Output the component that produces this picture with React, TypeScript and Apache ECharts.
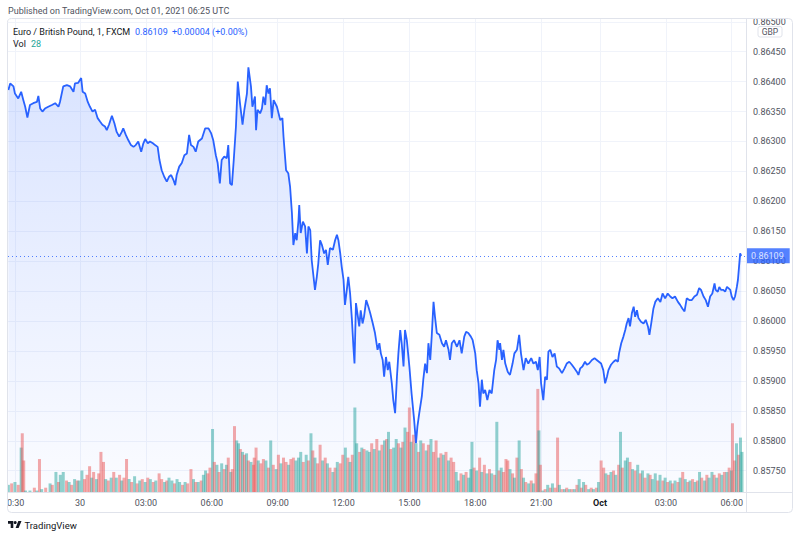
import React, { useEffect, useRef } from 'react';
import * as echarts from 'echarts';

// x axis: trading minutes counted from 30 Sep 00:00 (gaps compressed, as on the source chart)
const xAxisMin = -197;
const xAxisMax = 1820;
const xTickMinutes = [-176, 0, 180, 360, 540, 720, 900, 1080, 1260, 1421, 1601, 1781];
const xTickLabels = ['0:30', '30', '03:00', '06:00', '09:00', '12:00', '15:00', '18:00', '21:00', 'Oct', '03:00', '06:00'];

// price axis (GBP)
const priceAxisMin = 0.857144;
const priceAxisMax = 0.865063;
const priceTicks = [0.8575, 0.858, 0.8585, 0.859, 0.8595, 0.86, 0.8605, 0.861, 0.8615, 0.862, 0.8625, 0.863, 0.8635, 0.864, 0.8645, 0.865];

const symbolTitle = 'Euro / British Pound, 1, FXCM';
const lastPrice = 0.86109;
const priceChange = '+0.00004 (+0.00%)';
const lastVolume = 28;
const publishedText = 'Published on TradingView.com, Oct 01, 2021 06:25 UTC';

// [minute, price]
const pricePoints: [number, number][] = [
  [-196, 0.86386], [-191, 0.86397], [-182, 0.86392], [-178, 0.8638], [-169, 0.86372], [-161, 0.86383], [-155, 0.86369], [-150, 0.86358], [-144, 0.8634], [-137, 0.86361],
  [-128, 0.86364], [-118, 0.86366], [-114, 0.86376], [-109, 0.86355], [-103, 0.8635], [-96, 0.86355], [-87, 0.86358], [-77, 0.86361], [-68, 0.86364], [-59, 0.86358],
  [-55, 0.86366], [-46, 0.86392], [-36, 0.86394], [-27, 0.86392], [-18, 0.86383], [-14, 0.86397], [-5, 0.86398], [3, 0.86406], [7, 0.86383], [14, 0.8638],
  [21, 0.86366], [27, 0.86358], [34, 0.8635], [41, 0.86353], [48, 0.86339], [55, 0.86333], [61, 0.86328], [68, 0.86325], [73, 0.86319], [79, 0.86328],
  [87, 0.86343], [94, 0.8633], [100, 0.86316], [107, 0.86308], [114, 0.86316], [118, 0.86322], [125, 0.86311], [132, 0.86302], [139, 0.86294], [146, 0.86291],
  [152, 0.86294], [159, 0.863], [167, 0.86283], [173, 0.86297], [178, 0.86304], [185, 0.86297], [191, 0.863], [199, 0.86297], [205, 0.86294], [212, 0.86291],
  [217, 0.86269], [223, 0.86252], [230, 0.86241], [237, 0.86233], [243, 0.86241], [249, 0.86244], [255, 0.86236], [260, 0.86227], [264, 0.86244], [271, 0.86258],
  [278, 0.86264], [285, 0.86277], [292, 0.8628], [298, 0.86311], [303, 0.86294], [310, 0.86291], [316, 0.86283], [323, 0.863], [333, 0.86305], [342, 0.86322],
  [351, 0.86322], [358, 0.86314], [364, 0.86302], [371, 0.86277], [376, 0.86264], [382, 0.8623], [387, 0.86269], [394, 0.86275], [401, 0.86272], [405, 0.86294],
  [410, 0.8623], [415, 0.86227], [420, 0.86269], [426, 0.86325], [431, 0.864], [437, 0.86364], [444, 0.86328], [449, 0.86353], [456, 0.8638], [460, 0.86424],
  [467, 0.86392], [471, 0.86358], [478, 0.86375], [481, 0.86319], [485, 0.86353], [492, 0.86347], [497, 0.86355], [501, 0.86375], [506, 0.86361], [510, 0.86394],
  [515, 0.8638], [519, 0.86389], [524, 0.86339], [529, 0.86369], [538, 0.86358], [547, 0.86336], [553, 0.86339], [556, 0.86308], [563, 0.86252], [569, 0.86247],
  [574, 0.86224], [579, 0.8618], [583, 0.86127], [588, 0.86147], [592, 0.86135], [597, 0.86169], [599, 0.86194], [603, 0.86147], [609, 0.86166], [615, 0.86158],
  [620, 0.86113], [624, 0.86158], [629, 0.86152], [633, 0.86102], [638, 0.86074], [642, 0.86052], [647, 0.86074], [651, 0.86096], [656, 0.86135], [661, 0.86127],
  [667, 0.86113], [672, 0.86119], [677, 0.86094], [683, 0.86122], [691, 0.86119], [697, 0.86135], [702, 0.86144], [706, 0.86135], [711, 0.86113], [715, 0.86091],
  [720, 0.86069], [724, 0.86027], [729, 0.86052], [733, 0.86074], [738, 0.86046], [743, 0.86002], [747, 0.85957], [750, 0.85929], [754, 0.8603], [758, 0.86013],
  [763, 0.85991], [767, 0.86018], [772, 0.85996], [776, 0.86007], [782, 0.86035], [788, 0.86024], [793, 0.86013], [800, 0.85996], [806, 0.8598], [813, 0.85952],
  [818, 0.85963], [822, 0.85946], [827, 0.85935], [831, 0.85907], [836, 0.8594], [841, 0.85918], [845, 0.85932], [852, 0.85896], [856, 0.85868], [861, 0.85846],
  [866, 0.85907], [870, 0.85946], [875, 0.85985], [879, 0.85963], [884, 0.85924], [888, 0.85985], [893, 0.85968], [900, 0.85924], [906, 0.85879], [913, 0.85835],
  [918, 0.85796], [922, 0.85824], [927, 0.85846], [934, 0.85874], [938, 0.85902], [943, 0.85929], [948, 0.85913], [952, 0.85963], [957, 0.85935], [961, 0.85974],
  [966, 0.86032], [970, 0.86007], [975, 0.8598], [982, 0.85977], [989, 0.85963], [995, 0.85957], [1000, 0.85968], [1007, 0.85952], [1011, 0.85935], [1016, 0.85963],
  [1022, 0.85968], [1030, 0.85957], [1037, 0.85968], [1043, 0.85946], [1050, 0.85974], [1055, 0.85982], [1061, 0.8598], [1068, 0.85974], [1073, 0.85968], [1080, 0.85946],
  [1084, 0.85918], [1089, 0.85896], [1093, 0.85857], [1098, 0.85902], [1102, 0.85879], [1107, 0.85885], [1113, 0.85868], [1119, 0.85885], [1125, 0.85879], [1132, 0.85918],
  [1137, 0.85935], [1141, 0.85968], [1146, 0.85952], [1148, 0.85963], [1153, 0.85935], [1157, 0.85952], [1162, 0.85929], [1169, 0.85915], [1175, 0.8591], [1182, 0.85929],
  [1187, 0.85946], [1194, 0.85952], [1200, 0.85977], [1205, 0.85946], [1212, 0.85918], [1218, 0.85938], [1225, 0.85929], [1233, 0.85938], [1239, 0.85929], [1246, 0.85932],
  [1251, 0.85918], [1256, 0.8594], [1260, 0.85896], [1266, 0.85868], [1271, 0.85907], [1276, 0.85902], [1280, 0.85949], [1285, 0.85952], [1291, 0.8594], [1297, 0.85946],
  [1303, 0.85924], [1309, 0.85921], [1317, 0.85913], [1324, 0.85921], [1330, 0.85929], [1337, 0.85932], [1344, 0.85927], [1351, 0.85921], [1358, 0.85915], [1362, 0.8591],
  [1367, 0.85921], [1373, 0.85924], [1380, 0.85932], [1385, 0.85927], [1391, 0.85929], [1399, 0.85935], [1406, 0.85938], [1412, 0.85935], [1418, 0.85932], [1424, 0.85929],
  [1430, 0.85918], [1435, 0.85896], [1440, 0.85907], [1444, 0.85918], [1451, 0.85927], [1458, 0.85932], [1464, 0.85935], [1470, 0.85932], [1473, 0.85946], [1479, 0.85963],
  [1485, 0.85974], [1490, 0.85985], [1494, 0.85996], [1499, 0.86005], [1503, 0.85991], [1508, 0.86013], [1513, 0.86024], [1517, 0.86007], [1522, 0.86018], [1526, 0.86005],
  [1533, 0.85999], [1540, 0.85996], [1546, 0.86002], [1552, 0.85991], [1556, 0.85977], [1561, 0.85996], [1567, 0.86021], [1572, 0.86032], [1579, 0.86038], [1586, 0.86032],
  [1592, 0.86046], [1599, 0.86038], [1606, 0.86046], [1613, 0.86041], [1619, 0.86038], [1626, 0.86041], [1634, 0.86032], [1640, 0.86027], [1646, 0.86021], [1652, 0.86016],
  [1658, 0.86038], [1665, 0.86035], [1672, 0.86035], [1679, 0.86041], [1686, 0.86044], [1692, 0.86055], [1697, 0.86052], [1704, 0.86041], [1710, 0.86035], [1716, 0.86024],
  [1722, 0.86041], [1728, 0.86046], [1734, 0.86063], [1737, 0.86052], [1743, 0.86049], [1747, 0.86057], [1752, 0.86052], [1758, 0.86052], [1763, 0.86049], [1768, 0.86057],
  [1772, 0.86055], [1777, 0.86052], [1781, 0.86041], [1786, 0.86035], [1790, 0.86041], [1795, 0.86057], [1798, 0.86069], [1801, 0.86091], [1804, 0.86113], [1807, 0.86109],
];

// [minute, volume, direction (1 up / -1 down)]
const volumePoints: [number, number, number][] = [
  [-196, 5, 1], [-187, 6, -1], [-178, 7, 1], [-169, 5, -1], [-161, 31, 1], [-158, 41, -1], [-154, 22, -1], [-149, 1, 1], [-137, 1, 1], [-125, 3, -1],
  [-118, 1, 1], [-111, 23, -1], [-105, 2, 1], [-94, 3, -1], [-82, 6, 1], [-76, 5, -1], [-66, 14, 1], [-59, 7, -1], [-54, 12, 1], [-46, 14, 1],
  [-37, 8, -1], [-30, 7, 1], [-23, 5, -1], [-15, 9, 1], [-8, 8, -1], [-3, 8, 1], [5, 15, 1], [12, 9, -1], [19, 12, -1], [26, 18, -1],
  [32, 10, 1], [37, 14, -1], [45, 9, 1], [51, 13, -1], [57, 28, -1], [64, 21, -1], [70, 9, 1], [77, 8, -1], [85, 10, 1], [92, 14, -1],
  [99, 10, 1], [108, 12, -1], [114, 8, 1], [120, 10, -1], [127, 23, -1], [134, 9, 1], [141, 7, -1], [149, 11, 1], [156, 6, -1], [163, 8, 1],
  [170, 9, -1], [178, 7, 1], [185, 10, -1], [192, 9, 1], [200, 7, -1], [207, 8, 1], [216, 13, -1], [223, 9, -1], [231, 7, 1], [237, 8, -1],
  [243, 10, 1], [251, 8, 1], [258, 6, -1], [265, 9, 1], [272, 7, 1], [280, 5, -1], [287, 7, 1], [294, 6, -1], [303, 16, -1], [310, 9, 1],
  [316, 7, -1], [323, 7, 1], [331, 8, -1], [337, 12, 1], [343, 15, 1], [349, 13, -1], [355, 17, -1], [362, 44, 1], [367, 21, -1], [374, 19, 1],
  [380, 14, -1], [387, 20, 1], [394, 16, -1], [400, 19, 1], [405, 24, -1], [412, 14, 1], [416, 16, -1], [422, 46, -1], [428, 36, 1], [433, 34, 1],
  [438, 30, -1], [444, 28, 1], [449, 26, -1], [455, 27, 1], [460, 22, -1], [467, 21, 1], [474, 19, -1], [476, 24, -1], [481, 31, -1], [487, 22, 1],
  [494, 20, -1], [501, 23, -1], [508, 22, 1], [515, 17, -1], [521, 36, 1], [528, 19, -1], [536, 16, 1], [542, 26, -1], [549, 20, 1], [556, 24, -1],
  [563, 21, -1], [570, 19, 1], [576, 23, -1], [583, 24, -1], [590, 22, 1], [597, 24, 1], [603, 28, 1], [610, 21, -1], [618, 26, 1], [624, 22, -1],
  [631, 41, 1], [636, 29, -1], [642, 24, 1], [649, 20, -1], [656, 33, -1], [663, 22, 1], [670, 24, -1], [676, 20, 1], [683, 17, -1], [691, 14, 1],
  [697, 17, -1], [703, 21, 1], [711, 20, -1], [718, 26, -1], [725, 31, 1], [732, 24, -1], [738, 21, 1], [744, 26, -1], [751, 59, 1], [756, 34, 1],
  [764, 28, -1], [770, 31, 1], [776, 30, -1], [784, 29, 1], [791, 28, 1], [797, 34, -1], [804, 30, 1], [811, 37, -1], [818, 29, 1], [825, 33, -1],
  [832, 36, 1], [838, 37, -1], [843, 42, 1], [849, 30, -1], [857, 31, 1], [864, 37, 1], [870, 34, -1], [877, 31, 1], [882, 35, -1], [888, 45, 1],
  [895, 42, -1], [900, 59, -1], [905, 35, 1], [911, 40, -1], [918, 34, 1], [925, 28, -1], [931, 36, 1], [938, 34, -1], [946, 29, 1], [952, 33, -1],
  [959, 37, 1], [966, 28, -1], [973, 36, -1], [980, 24, 1], [986, 27, -1], [993, 26, 1], [1000, 28, -1], [1007, 22, 1], [1014, 24, -1], [1021, 21, -1],
  [1028, 14, 1], [1034, 8, 1], [1041, 13, -1], [1048, 12, 1], [1055, 14, -1], [1062, 10, 1], [1068, 16, 1], [1071, 35, 1], [1077, 17, -1], [1084, 15, 1],
  [1092, 24, -1], [1098, 14, 1], [1105, 19, -1], [1112, 13, 1], [1119, 16, -1], [1125, 13, 1], [1133, 12, -1], [1139, 49, 1], [1145, 15, -1], [1151, 17, 1],
  [1157, 14, -1], [1164, 23, -1], [1169, 22, -1], [1175, 16, 1], [1182, 13, -1], [1187, 10, 1], [1194, 24, -1], [1200, 36, 1], [1206, 16, -1], [1212, 10, 1],
  [1218, 7, -1], [1226, 6, 1], [1233, 8, -1], [1239, 6, 1], [1246, 13, -1], [1251, 72, -1], [1254, 43, 1], [1258, 19, -1], [1265, 1, 1], [1271, 2, -1],
  [1278, 5, 1], [1285, 3, -1], [1291, 6, 1], [1298, 3, -1], [1305, 38, -1], [1310, 5, 1], [1317, 2, -1], [1324, 2, 1], [1330, 3, -1], [1337, 2, 1],
  [1344, 2, -1], [1351, 2, 1], [1358, 5, -1], [1364, 9, 1], [1370, 3, -1], [1376, 7, 1], [1382, 5, -1], [1390, 2, 1], [1397, 3, -1], [1403, 2, 1],
  [1411, 3, -1], [1417, 7, 1], [1424, 22, -1], [1431, 17, -1], [1437, 13, 1], [1444, 12, -1], [1451, 14, 1], [1458, 15, -1], [1464, 12, 1], [1472, 19, -1],
  [1477, 42, 1], [1482, 17, -1], [1490, 22, 1], [1496, 24, 1], [1503, 21, -1], [1510, 16, 1], [1517, 15, -1], [1524, 19, 1], [1531, 13, -1], [1537, 15, 1],
  [1544, 10, -1], [1552, 13, 1], [1558, 12, -1], [1564, 9, 1], [1572, 13, 1], [1579, 8, -1], [1585, 12, 1], [1593, 8, -1], [1599, 10, 1], [1606, 7, -1],
  [1613, 8, 1], [1619, 6, -1], [1626, 8, 1], [1634, 7, -1], [1640, 10, 1], [1647, 14, -1], [1654, 9, 1], [1661, 7, -1], [1667, 8, 1], [1674, 9, -1],
  [1681, 7, 1], [1687, 8, -1], [1693, 14, 1], [1699, 10, -1], [1707, 8, 1], [1713, 12, -1], [1719, 10, 1], [1727, 14, 1], [1733, 12, -1], [1740, 10, 1],
  [1747, 13, -1], [1754, 12, 1], [1761, 14, -1], [1768, 14, 1], [1774, 17, -1], [1780, 15, 1], [1783, 48, -1], [1789, 22, -1], [1794, 34, 1], [1800, 26, -1],
  [1805, 38, 1], [1809, 28, 1],
];
const volumeAxisMax = 331;

const BLUE = '#2962ff';
const UP = 'rgba(38,166,154,0.5)';
const DOWN = 'rgba(239,83,80,0.5)';
const FONT = 'Roboto, "Noto Sans", sans-serif';
const TEXT = '#131722';
const MUTED = '#50535e';
const BORDER = '#e0e3eb';
const GRIDC = '#f0f3fa';

export default function App() {
  const ref = useRef<HTMLDivElement>(null);

  useEffect(() => {
    if (!ref.current) return;
    const chart = echarts.init(ref.current, null, { renderer: 'svg' });

    const tickLabel = (v: number) => {
      let best = 0;
      let bd = Infinity;
      xTickMinutes.forEach((t, i) => {
        const d = Math.abs(t - v);
        if (d < bd) { bd = d; best = i; }
      });
      const s = xTickLabels[best];
      return s === 'Oct' ? '{b|' + s + '}' : s;
    };

    chart.setOption({
      animation: false,
      textStyle: { fontFamily: FONT },
      grid: { left: 8, right: 54, top: 18, bottom: 46 },
      xAxis: {
        type: 'value',
        min: xAxisMin,
        max: xAxisMax,
        axisLine: { show: false },
        axisTick: { show: false, customValues: xTickMinutes },
        splitLine: { show: true, lineStyle: { color: GRIDC, width: 1 } },
        axisLabel: {
          customValues: xTickMinutes,
          formatter: tickLabel,
          fontSize: 9,
          color: MUTED,
          margin: 6,
          fontFamily: FONT,
          rich: { b: { fontWeight: 'bold', color: TEXT, fontSize: 9, fontFamily: FONT } },
        },
      },
      yAxis: [
        {
          type: 'value',
          position: 'right',
          min: priceAxisMin,
          max: priceAxisMax,
          axisLine: { show: false },
          axisTick: { show: false, customValues: priceTicks },
          splitLine: { show: true, lineStyle: { color: GRIDC, width: 1 } },
          axisLabel: {
            customValues: priceTicks,
            formatter: (v: number) => v.toFixed(5),
            fontSize: 9,
            color: MUTED,
            margin: 7,
            fontFamily: FONT,
          },
        },
        {
          type: 'value',
          min: 0,
          max: volumeAxisMax,
          show: false,
          splitLine: { show: false },
        },
      ],
      series: [
        {
          type: 'bar',
          yAxisIndex: 1,
          barWidth: 3,
          z: 1,
          silent: true,
          data: volumePoints.map(([m, v, d]) => ({
            value: [m, v],
            itemStyle: { color: d > 0 ? UP : DOWN },
          })),
        },
        {
          type: 'line',
          yAxisIndex: 0,
          z: 3,
          showSymbol: false,
          symbol: 'none',
          silent: true,
          lineStyle: { color: BLUE, width: 1.8 },
          areaStyle: {
            color: new echarts.graphic.LinearGradient(0, 0, 0, 1, [
              { offset: 0, color: 'rgba(41,98,255,0.25)' },
              { offset: 1, color: 'rgba(41,98,255,0.03)' },
            ]),
          },
          data: pricePoints,
          markLine: {
            silent: true,
            symbol: 'none',
            precision: 5,
            lineStyle: { color: BLUE, type: [1, 3], width: 1, opacity: 0.8 },
            label: {
              show: true,
              position: 'end',
              formatter: lastPrice.toFixed(5),
              backgroundColor: BLUE,
              color: '#fff',
              fontSize: 9,
              fontFamily: FONT,
              padding: [3, 6, 3, 5],
              distance: 0,
            },
            data: [{ yAxis: lastPrice }],
          },
        },
      ],
      graphic: [
        { type: 'rect', z: 100, shape: { x: 746, y: 0, width: 54, height: 18.5 }, style: { fill: '#fff' } },
        { type: 'rect', z: 101, shape: { x: 7.5, y: 18.5, width: 785, height: 494, r: 4 }, style: { fill: 'none', stroke: BORDER, lineWidth: 1 } },
        { type: 'line', z: 101, shape: { x1: 746.5, y1: 18.5, x2: 746.5, y2: 512.5 }, style: { stroke: BORDER, lineWidth: 1 } },
        { type: 'line', z: 101, shape: { x1: 7.5, y1: 492.5, x2: 792.5, y2: 492.5 }, style: { stroke: BORDER, lineWidth: 1 } },
        { type: 'rect', z: 102, shape: { x: 758, y: 26.5, width: 24, height: 10.5, r: 2 }, style: { fill: '#fff', stroke: BORDER, lineWidth: 1 } },
        { type: 'text', z: 103, x: 770, y: 32, style: { text: 'GBP', fill: MUTED, fontSize: 8.5, fontFamily: FONT, align: 'center', verticalAlign: 'middle' } },
        { type: 'text', z: 103, x: 8, y: 11, style: { text: publishedText, fill: MUTED, fontSize: 9, fontFamily: FONT, verticalAlign: 'middle' } },
        { type: 'text', z: 103, x: 13, y: 31.5, style: { text: symbolTitle, fill: TEXT, fontSize: 9, fontFamily: FONT, verticalAlign: 'middle' } },
        { type: 'text', z: 103, x: 135, y: 31.5, style: { text: lastPrice.toFixed(5), fill: BLUE, fontSize: 9, fontFamily: FONT, verticalAlign: 'middle' } },
        { type: 'text', z: 103, x: 172, y: 31.5, style: { text: priceChange, fill: BLUE, fontSize: 9, fontFamily: FONT, verticalAlign: 'middle' } },
        { type: 'text', z: 103, x: 13, y: 43.5, style: { text: 'Vol', fill: TEXT, fontSize: 9, fontFamily: FONT, verticalAlign: 'middle' } },
        { type: 'text', z: 103, x: 31, y: 43.5, style: { text: String(lastVolume), fill: '#26a69a', fontSize: 9, fontFamily: FONT, verticalAlign: 'middle' } },
        { type: 'polygon', z: 103, shape: { points: [[8, 521], [13.3, 521], [13.3, 528], [10.7, 528], [10.7, 523.8], [8, 523.8]] }, style: { fill: TEXT } },
        { type: 'circle', z: 103, shape: { cx: 15.2, cy: 522.6, r: 1.5 }, style: { fill: TEXT } },
        { type: 'polygon', z: 103, shape: { points: [[18.3, 521], [21.5, 521], [18.6, 528], [15.6, 528]] }, style: { fill: TEXT } },
        { type: 'text', z: 103, x: 24.5, y: 525.5, style: { text: 'TradingView', fill: TEXT, fontSize: 9.5, fontFamily: FONT, verticalAlign: 'middle' } },
      ],
    });

    return () => chart.dispose();
  }, []);

  return (
    <div
      ref={ref}
      style={{ position: 'fixed', left: 0, top: 0, width: 800, height: 538, background: '#fff' }}
    />
  );
}
